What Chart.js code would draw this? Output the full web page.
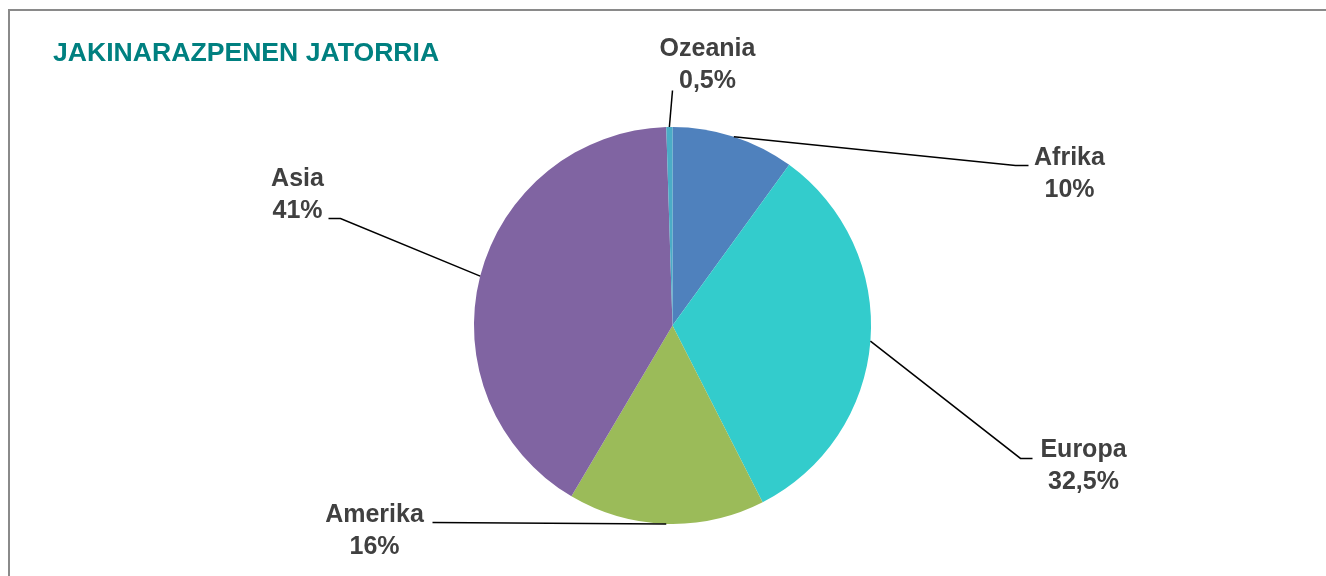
<!DOCTYPE html>
<html>
<head>
<meta charset="utf-8">
<script src="https://cdn.jsdelivr.net/npm/chart.js@4/dist/chart.umd.min.js"></script>
<style>
  body { margin: 0; overflow: hidden; background: #fff; }
  #frame { position: absolute; left: 8px; top: 9px; right: -20px; bottom: -20px;
           border-left: 2px solid #8a8a8a; border-top: 2px solid #8a8a8a; }
  #wrap { position: absolute; left: 0; top: 0; width: 1326px; height: 576px; }
</style>
</head>
<body>
<div id="frame"></div>
<div id="wrap"><canvas id="originChart"></canvas></div>
<script>
// Data
const regions = ['Afrika', 'Europa', 'Amerika', 'Asia', 'Ozeania'];
const shares = [10, 32.5, 16, 41, 0.5];
const sliceColors = ['#4f81bd', '#33cccc', '#9bbb59', '#8064a2', '#4bacc6'];

// Where each label sits, relative to the pie centre (px): text centre/baseline and leader line points
const labelLayout = [
  { text: [397, -160], line: [[343, -160], [356, -160]] },
  { text: [411, 132], line: [[348, 133], [360, 133]] },
  { text: [-298, 197], line: [[-240, 197]] },
  { text: [-375, -139], line: [[-332, -107], [-344, -107]] },
  { text: [35, -269], line: [[0, -235]] }
];

const pctText = v => String(v).replace('.', ',') + '%';

// Draws the outside labels with leader lines, Excel style
const leaderLabels = {
  id: 'leaderLabels',
  afterDatasetsDraw(chart) {
    const ctx = chart.ctx;
    const meta = chart.getDatasetMeta(0);
    ctx.save();
    ctx.strokeStyle = '#000';
    ctx.lineWidth = 1.5;
    ctx.fillStyle = '#404040';
    ctx.font = 'bold 25px "Liberation Sans", Arial, sans-serif';
    ctx.textAlign = 'center';
    ctx.textBaseline = 'alphabetic';
    meta.data.forEach((arc, i) => {
      const p = arc.getProps(['x', 'y', 'startAngle', 'endAngle', 'outerRadius'], true);
      const mid = (p.startAngle + p.endAngle) / 2;
      const L = labelLayout[i];
      ctx.beginPath();
      ctx.moveTo(p.x + Math.cos(mid) * p.outerRadius, p.y + Math.sin(mid) * p.outerRadius);
      L.line.forEach(pt => ctx.lineTo(p.x + pt[0], p.y + pt[1]));
      ctx.stroke();
      ctx.fillText(regions[i], p.x + L.text[0], p.y + L.text[1]);
      ctx.fillText(pctText(shares[i]), p.x + L.text[0], p.y + L.text[1] + 31.5);
    });
    ctx.restore();
  }
};

const ctx = document.getElementById('originChart').getContext('2d');

new Chart(ctx, {
  type: 'pie',
  data: {
    labels: regions,
    datasets: [{
      data: shares,
      backgroundColor: sliceColors,
      borderWidth: 0
    }]
  },
  options: {
    responsive: true,
    maintainAspectRatio: false,
    animation: false,
    layout: { padding: { left: 53, right: 34, top: 0, bottom: 52 } },
    plugins: {
      legend: { display: false },
      tooltip: { enabled: false },
      title: {
        display: true,
        text: 'JAKINARAZPENEN JATORRIA',
        align: 'start',
        color: '#008080',
        font: { family: '"Liberation Sans", Arial, sans-serif', size: 26.6, weight: 'bold', lineHeight: 1.2 },
        padding: { top: 38, bottom: 57 }
      }
    }
  },
  plugins: [leaderLabels]
});
</script>
</body>
</html>
